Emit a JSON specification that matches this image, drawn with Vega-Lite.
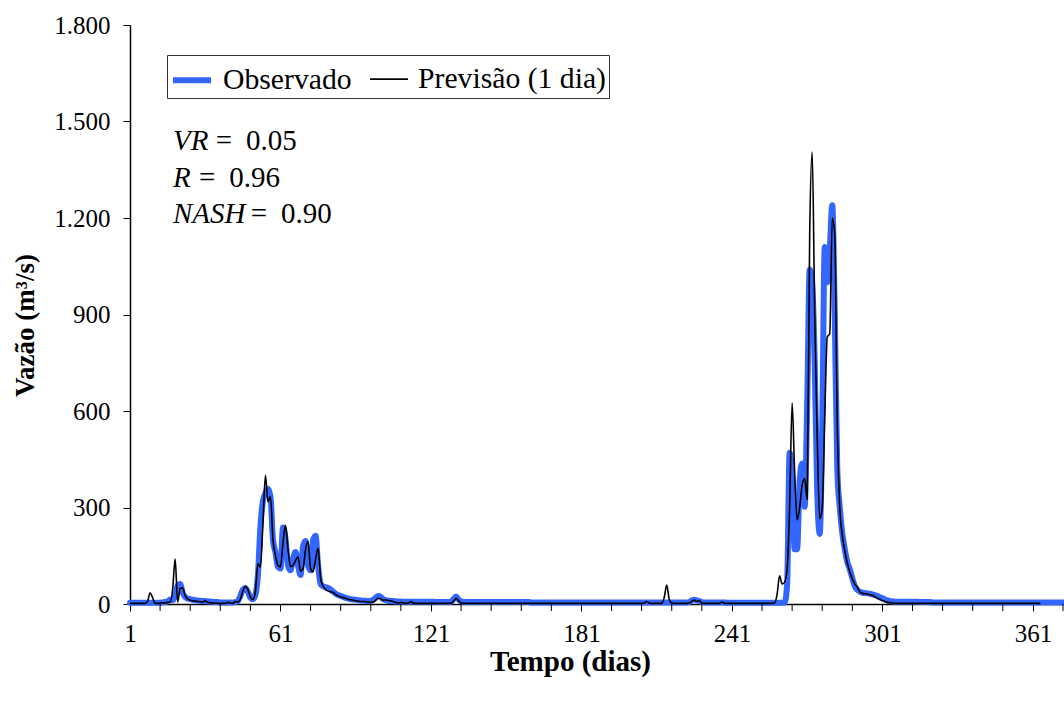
{
"$schema": "https://vega.github.io/schema/vega-lite/v6.json",
"width": 933, "height": 579,
"autosize": {"type": "none"},
"padding": {"left": 130, "top": 25, "right": 1, "bottom": 98},
"background": "white",
"config": {"view": {"stroke": null}, "font": "Liberation Serif", "axis": {"grid": false}},
"data": {"values": [
{"d":1,"o":4,"p":2},{"d":2,"o":4,"p":2},{"d":3,"o":4,"p":2},{"d":4,"o":4,"p":2},{"d":5,"o":4,"p":2},{"d":6,"o":4,"p":2},{"d":7,"o":4,"p":2},{"d":8,"o":4,"p":8},{"d":9,"o":4,"p":35},{"d":10,"o":4,"p":20},
{"d":11,"o":4,"p":2},{"d":12,"o":4,"p":2},{"d":13,"o":4,"p":3},{"d":14,"o":5,"p":4},{"d":15,"o":6,"p":3},{"d":16,"o":8,"p":5},{"d":17,"o":14,"p":6},{"d":18,"o":12,"p":45},{"d":19,"o":25,"p":140},{"d":20,"o":58,"p":6},
{"d":21,"o":62,"p":48},{"d":22,"o":35,"p":50},{"d":23,"o":22,"p":25},{"d":24,"o":17,"p":16},{"d":25,"o":15,"p":12},{"d":26,"o":13,"p":10},{"d":27,"o":12,"p":9},{"d":28,"o":11,"p":8},{"d":29,"o":10,"p":7},{"d":30,"o":9,"p":6},
{"d":31,"o":9,"p":10},{"d":32,"o":8,"p":5},{"d":33,"o":8,"p":4},{"d":34,"o":7,"p":3},{"d":35,"o":6,"p":3},{"d":36,"o":6,"p":2},{"d":37,"o":5,"p":2},{"d":38,"o":5,"p":2},{"d":39,"o":5,"p":2},{"d":40,"o":5,"p":5},
{"d":41,"o":5,"p":3},{"d":42,"o":5,"p":2},{"d":43,"o":6,"p":8},{"d":44,"o":9,"p":6},{"d":45,"o":25,"p":15},{"d":46,"o":45,"p":40},{"d":47,"o":50,"p":54},{"d":48,"o":38,"p":45},{"d":49,"o":20,"p":22},{"d":50,"o":15,"p":14},
{"d":51,"o":28,"p":40},{"d":52,"o":90,"p":125},{"d":53,"o":240,"p":115},{"d":54,"o":320,"p":250},{"d":55,"o":345,"p":400},{"d":56,"o":358,"p":318},{"d":57,"o":335,"p":334},{"d":58,"o":200,"p":200},{"d":59,"o":160,"p":150},{"d":60,"o":115,"p":120},
{"d":61,"o":110,"p":116},{"d":62,"o":238,"p":190},{"d":63,"o":205,"p":245},{"d":64,"o":120,"p":170},{"d":65,"o":105,"p":116},{"d":66,"o":140,"p":120},{"d":67,"o":162,"p":135},{"d":68,"o":120,"p":147},{"d":69,"o":90,"p":102},{"d":70,"o":180,"p":110},
{"d":71,"o":196,"p":170},{"d":72,"o":120,"p":194},{"d":73,"o":105,"p":110},{"d":74,"o":198,"p":100},{"d":75,"o":212,"p":140},{"d":76,"o":120,"p":173},{"d":77,"o":62,"p":80},{"d":78,"o":55,"p":56},{"d":79,"o":52,"p":45},{"d":80,"o":50,"p":40},
{"d":81,"o":45,"p":38},{"d":82,"o":38,"p":36},{"d":83,"o":32,"p":30},{"d":84,"o":28,"p":25},{"d":85,"o":25,"p":22},{"d":86,"o":22,"p":20},{"d":87,"o":19,"p":17},{"d":88,"o":17,"p":15},{"d":89,"o":15,"p":13},{"d":90,"o":14,"p":12},
{"d":91,"o":13,"p":10},{"d":92,"o":12,"p":9},{"d":93,"o":11,"p":8},{"d":94,"o":10,"p":8},{"d":95,"o":10,"p":7},{"d":96,"o":9,"p":6},{"d":97,"o":10,"p":5},{"d":98,"o":13,"p":6},{"d":99,"o":20,"p":12},{"d":100,"o":25,"p":18},
{"d":101,"o":22,"p":16},{"d":102,"o":15,"p":12},{"d":103,"o":12,"p":13},{"d":104,"o":10,"p":11},{"d":105,"o":9,"p":10},{"d":106,"o":9,"p":7},{"d":107,"o":8,"p":5},{"d":108,"o":8,"p":3},{"d":109,"o":8,"p":5},{"d":110,"o":7,"p":3},
{"d":111,"o":7,"p":2},{"d":112,"o":7,"p":3},{"d":113,"o":7,"p":8},{"d":114,"o":7,"p":2},{"d":115,"o":7,"p":2},{"d":116,"o":7,"p":2},{"d":117,"o":7,"p":2},{"d":118,"o":7,"p":2},{"d":119,"o":7,"p":2},{"d":120,"o":7,"p":2},
{"d":121,"o":7,"p":2},{"d":122,"o":7,"p":2},{"d":123,"o":6,"p":2},{"d":124,"o":6,"p":2},{"d":125,"o":6,"p":2},{"d":126,"o":6,"p":2},{"d":127,"o":6,"p":2},{"d":128,"o":6,"p":2},{"d":129,"o":7,"p":3},{"d":130,"o":15,"p":8},
{"d":131,"o":23,"p":18},{"d":132,"o":14,"p":10},{"d":133,"o":8,"p":3},{"d":134,"o":7,"p":2},{"d":135,"o":6,"p":2},{"d":136,"o":6,"p":2},{"d":137,"o":6,"p":2},{"d":138,"o":6,"p":2},{"d":139,"o":6,"p":2},{"d":140,"o":6,"p":2},
{"d":141,"o":6,"p":2},{"d":142,"o":6,"p":2},{"d":143,"o":6,"p":2},{"d":144,"o":6,"p":2},{"d":145,"o":6,"p":2},{"d":146,"o":6,"p":2},{"d":147,"o":6,"p":2},{"d":148,"o":6,"p":2},{"d":149,"o":6,"p":2},{"d":150,"o":6,"p":2},
{"d":151,"o":6,"p":2},{"d":152,"o":6,"p":2},{"d":153,"o":6,"p":2},{"d":154,"o":6,"p":2},{"d":155,"o":6,"p":2},{"d":156,"o":6,"p":2},{"d":157,"o":6,"p":2},{"d":158,"o":6,"p":2},{"d":159,"o":6,"p":2},{"d":160,"o":6,"p":2},
{"d":161,"o":5,"p":2},{"d":162,"o":5,"p":2},{"d":163,"o":5,"p":2},{"d":164,"o":5,"p":2},{"d":165,"o":5,"p":2},{"d":166,"o":5,"p":2},{"d":167,"o":5,"p":2},{"d":168,"o":5,"p":2},{"d":169,"o":5,"p":2},{"d":170,"o":5,"p":2},
{"d":171,"o":5,"p":2},{"d":172,"o":5,"p":2},{"d":173,"o":5,"p":2},{"d":174,"o":5,"p":2},{"d":175,"o":5,"p":2},{"d":176,"o":5,"p":2},{"d":177,"o":5,"p":2},{"d":178,"o":5,"p":2},{"d":179,"o":5,"p":2},{"d":180,"o":5,"p":2},
{"d":181,"o":5,"p":2},{"d":182,"o":5,"p":2},{"d":183,"o":5,"p":2},{"d":184,"o":5,"p":2},{"d":185,"o":5,"p":2},{"d":186,"o":5,"p":2},{"d":187,"o":5,"p":2},{"d":188,"o":5,"p":2},{"d":189,"o":5,"p":2},{"d":190,"o":5,"p":2},
{"d":191,"o":5,"p":2},{"d":192,"o":5,"p":2},{"d":193,"o":5,"p":2},{"d":194,"o":5,"p":2},{"d":195,"o":5,"p":2},{"d":196,"o":5,"p":2},{"d":197,"o":5,"p":2},{"d":198,"o":5,"p":2},{"d":199,"o":5,"p":2},{"d":200,"o":5,"p":2},
{"d":201,"o":5,"p":2},{"d":202,"o":5,"p":2},{"d":203,"o":5,"p":2},{"d":204,"o":5,"p":2},{"d":205,"o":5,"p":2},{"d":206,"o":5,"p":3},{"d":207,"o":5,"p":8},{"d":208,"o":5,"p":3},{"d":209,"o":5,"p":2},{"d":210,"o":5,"p":2},
{"d":211,"o":5,"p":2},{"d":212,"o":5,"p":2},{"d":213,"o":5,"p":2},{"d":214,"o":5,"p":20},{"d":215,"o":5,"p":59},{"d":216,"o":5,"p":15},{"d":217,"o":5,"p":3},{"d":218,"o":5,"p":2},{"d":219,"o":5,"p":2},{"d":220,"o":5,"p":2},
{"d":221,"o":5,"p":2},{"d":222,"o":5,"p":2},{"d":223,"o":5,"p":2},{"d":224,"o":6,"p":3},{"d":225,"o":11,"p":8},{"d":226,"o":13,"p":12},{"d":227,"o":11,"p":8},{"d":228,"o":9,"p":10},{"d":229,"o":6,"p":3},{"d":230,"o":5,"p":2},
{"d":231,"o":5,"p":2},{"d":232,"o":5,"p":2},{"d":233,"o":5,"p":2},{"d":234,"o":5,"p":2},{"d":235,"o":5,"p":2},{"d":236,"o":5,"p":2},{"d":237,"o":5,"p":6},{"d":238,"o":5,"p":2},{"d":239,"o":4,"p":2},{"d":240,"o":4,"p":2},
{"d":241,"o":4,"p":2},{"d":242,"o":4,"p":2},{"d":243,"o":4,"p":2},{"d":244,"o":4,"p":2},{"d":245,"o":4,"p":2},{"d":246,"o":4,"p":2},{"d":247,"o":4,"p":2},{"d":248,"o":4,"p":2},{"d":249,"o":4,"p":2},{"d":250,"o":4,"p":2},
{"d":251,"o":4,"p":2},{"d":252,"o":4,"p":2},{"d":253,"o":4,"p":2},{"d":254,"o":4,"p":2},{"d":255,"o":4,"p":2},{"d":256,"o":4,"p":2},{"d":257,"o":4,"p":2},{"d":258,"o":4,"p":3},{"d":259,"o":4,"p":30},{"d":260,"o":4,"p":88},
{"d":261,"o":4,"p":62},{"d":262,"o":4,"p":68},{"d":263,"o":60,"p":108},{"d":264,"o":470,"p":300},{"d":265,"o":400,"p":625},{"d":266,"o":170,"p":410},{"d":267,"o":170,"p":261},{"d":268,"o":380,"p":300},{"d":269,"o":437,"p":370},{"d":270,"o":302,"p":390},
{"d":271,"o":620,"p":325},{"d":272,"o":1040,"p":1150},{"d":273,"o":1000,"p":1405},{"d":274,"o":750,"p":900},{"d":275,"o":350,"p":520},{"d":276,"o":218,"p":265},{"d":277,"o":550,"p":300},{"d":278,"o":1110,"p":580},{"d":279,"o":1000,"p":830},{"d":280,"o":1100,"p":840},
{"d":281,"o":1240,"p":1200},{"d":282,"o":900,"p":1150},{"d":283,"o":420,"p":560},{"d":284,"o":300,"p":300},{"d":285,"o":220,"p":215},{"d":286,"o":170,"p":165},{"d":287,"o":130,"p":127},{"d":288,"o":108,"p":100},{"d":289,"o":80,"p":78},{"d":290,"o":55,"p":62},
{"d":291,"o":44,"p":52},{"d":292,"o":38,"p":38},{"d":293,"o":35,"p":33},{"d":294,"o":34,"p":32},{"d":295,"o":33,"p":31},{"d":296,"o":32,"p":29},{"d":297,"o":30,"p":27},{"d":298,"o":28,"p":22},{"d":299,"o":25,"p":18},{"d":300,"o":21,"p":14},
{"d":301,"o":18,"p":11},{"d":302,"o":14,"p":8},{"d":303,"o":11,"p":5},{"d":304,"o":9,"p":4},{"d":305,"o":8,"p":3},{"d":306,"o":7,"p":2},{"d":307,"o":7,"p":2},{"d":308,"o":7,"p":2},{"d":309,"o":7,"p":2},{"d":310,"o":7,"p":2},
{"d":311,"o":7,"p":2},{"d":312,"o":7,"p":2},{"d":313,"o":7,"p":2},{"d":314,"o":7,"p":2},{"d":315,"o":7,"p":2},{"d":316,"o":6,"p":2},{"d":317,"o":6,"p":2},{"d":318,"o":6,"p":2},{"d":319,"o":6,"p":2},{"d":320,"o":6,"p":2},
{"d":321,"o":5,"p":2},{"d":322,"o":5,"p":2},{"d":323,"o":5,"p":2},{"d":324,"o":5,"p":2},{"d":325,"o":5,"p":2},{"d":326,"o":5,"p":2},{"d":327,"o":5,"p":2},{"d":328,"o":5,"p":2},{"d":329,"o":5,"p":2},{"d":330,"o":5,"p":2},
{"d":331,"o":5,"p":2},{"d":332,"o":5,"p":2},{"d":333,"o":5,"p":2},{"d":334,"o":5,"p":2},{"d":335,"o":5,"p":2},{"d":336,"o":5,"p":2},{"d":337,"o":5,"p":2},{"d":338,"o":5,"p":2},{"d":339,"o":5,"p":2},{"d":340,"o":5,"p":2},
{"d":341,"o":5,"p":2},{"d":342,"o":5,"p":2},{"d":343,"o":5,"p":2},{"d":344,"o":5,"p":2},{"d":345,"o":5,"p":2},{"d":346,"o":5,"p":2},{"d":347,"o":5,"p":2},{"d":348,"o":5,"p":2},{"d":349,"o":5,"p":2},{"d":350,"o":5,"p":2},
{"d":351,"o":5,"p":2},{"d":352,"o":5,"p":2},{"d":353,"o":5,"p":2},{"d":354,"o":5,"p":2},{"d":355,"o":5,"p":2},{"d":356,"o":5,"p":2},{"d":357,"o":5,"p":2},{"d":358,"o":5,"p":2},{"d":359,"o":5,"p":2},{"d":360,"o":5,"p":2},
{"d":361,"o":5,"p":2},{"d":362,"o":5,"p":2},{"d":363,"o":5,"p":2},{"d":364,"o":5,"p":2},{"d":365,"o":5},{"d":366,"o":5},{"d":367,"o":5},{"d":368,"o":5},{"d":369,"o":5},{"d":370,"o":5},
{"d":371,"o":5},{"d":372,"o":5},{"d":373,"o":5}
]},
"layer": [
{
"transform": [{"fold": ["o"], "as": ["k", "v"]}, {"filter": "isValid(datum.v)"}],
"mark": {"type": "line", "interpolate": "monotone", "strokeCap": "round", "strokeJoin": "round"},
"encoding": {
"x": {"field": "d", "type": "quantitative", "title": "Tempo (dias)",
"scale": {"domain": [1, 373], "nice": false, "zero": false},
"axis": {"values": [1,61,121,181,241,301,361], "grid": false, "tickSize": 7, "tickColor": "black", "tickWidth": 1,
"domainColor": "black", "domainWidth": 1.5, "labelFont": "Liberation Serif", "labelFontSize": 25, "labelColor": "black",
"labelBaseline": "alphabetic", "labelPadding": 30, "labelOverlap": false, "labelFlush": false,
"titleFont": "Liberation Serif", "titleFontSize": 29, "titleFontWeight": "bold", "titleColor": "black",
"titleX": 440, "titleY": 66, "titleBaseline": "alphabetic", "titleAlign": "center", "titleAnchor": null}},
"y": {"field": "v", "type": "quantitative", "title": "Vazão (m³/s)",
"scale": {"domain": [0, 1800], "nice": false, "zero": true},
"axis": {"values": [0,300,600,900,1200,1500,1800], "labelExpr": "replace(format(datum.value, ','), ',', '.')",
"grid": false, "tickSize": 7, "tickColor": "black", "tickWidth": 1, "domainColor": "black", "domainWidth": 1.5,
"labelFont": "Liberation Serif", "labelFontSize": 25, "labelColor": "black", "labelPadding": 13,
"titleFont": "Liberation Serif", "titleFontSize": 27, "titleFontWeight": "bold", "titleColor": "black",
"titleX": -105, "titleY": 300, "titleAngle": 270, "titleBaseline": "middle", "titleAlign": "center", "titleAnchor": null}},
"color": {"field": "k", "type": "nominal", "scale": {"domain": ["o", "p"], "range": ["#3366FF", "#000000"]},
"legend": {"orient": "none", "legendX": 37, "legendY": 30, "direction": "horizontal", "title": null,
"labelFont": "Liberation Serif", "labelFontSize": 29.7, "labelColor": "black", "symbolType": "stroke", "symbolSize": 1444,
"strokeColor": "#333333", "fillColor": "white", "padding": 3, "labelOffset": 9, "columnPadding": 14, "labelLimit": 400,
"labelExpr": "datum.label == 'o' ? 'Observado' : 'Previsão (1 dia)'"}},
"strokeWidth": {"field": "k", "type": "nominal", "scale": {"domain": ["o", "p"], "range": [6, 1.6]},
"legend": {"orient": "none", "legendX": 37, "legendY": 30, "direction": "horizontal", "title": null,
"labelFont": "Liberation Serif", "labelFontSize": 29.7, "labelColor": "black", "symbolType": "stroke", "symbolSize": 1444,
"strokeColor": "#333333", "fillColor": "white", "padding": 3, "labelOffset": 9, "columnPadding": 14, "labelLimit": 400,
"labelExpr": "datum.label == 'o' ? 'Observado' : 'Previsão (1 dia)'"}}
}
},
{
"transform": [{"fold": ["p"], "as": ["k", "v"]}, {"filter": "isValid(datum.v)"}],
"mark": {"type": "line", "interpolate": "monotone", "strokeJoin": "round"},
"encoding": {
"x": {"field": "d", "type": "quantitative"},
"y": {"field": "v", "type": "quantitative"},
"color": {"field": "k", "type": "nominal"},
"strokeWidth": {"field": "k", "type": "nominal"}
}
},
{"data": {"values": [{"t":13},{"t":25},{"t":37},{"t":49},{"t":73},{"t":85},{"t":97},{"t":109},{"t":133},{"t":145},{"t":157},{"t":169},{"t":193},{"t":205},{"t":217},{"t":229},{"t":253},{"t":265},{"t":277},{"t":289},{"t":313},{"t":325},{"t":337},{"t":349},{"t":373}]},
"mark": {"type": "rule", "color": "black", "strokeWidth": 1, "clip": false},
"encoding": {"x": {"field": "t", "type": "quantitative"}, "y": {"datum": 0, "type": "quantitative"}, "y2": {"datum": -21.76}}},
{"data": {"values": [{}]}, "mark": {"type": "text", "text": "VR", "font": "Liberation Serif", "fontSize": 29, "fontStyle": "italic", "align": "left", "baseline": "alphabetic", "color": "black"},
"encoding": {"x": {"datum": 18.14}, "y": {"datum": 1411}}},
{"data": {"values": [{}]}, "mark": {"type": "text", "text": "=", "font": "Liberation Serif", "fontSize": 29, "align": "left", "baseline": "alphabetic", "color": "black"},
"encoding": {"x": {"datum": 35.17}, "y": {"datum": 1411}}},
{"data": {"values": [{}]}, "mark": {"type": "text", "text": "0.05", "font": "Liberation Serif", "fontSize": 29, "align": "left", "baseline": "alphabetic", "color": "black"},
"encoding": {"x": {"datum": 47.25}, "y": {"datum": 1411}}},
{"data": {"values": [{}]}, "mark": {"type": "text", "text": "R", "font": "Liberation Serif", "fontSize": 29, "fontStyle": "italic", "align": "left", "baseline": "alphabetic", "color": "black"},
"encoding": {"x": {"datum": 18.14}, "y": {"datum": 1297}}},
{"data": {"values": [{}]}, "mark": {"type": "text", "text": "=", "font": "Liberation Serif", "fontSize": 29, "align": "left", "baseline": "alphabetic", "color": "black"},
"encoding": {"x": {"datum": 28.51}, "y": {"datum": 1297}}},
{"data": {"values": [{}]}, "mark": {"type": "text", "text": "0.96", "font": "Liberation Serif", "fontSize": 29, "align": "left", "baseline": "alphabetic", "color": "black"},
"encoding": {"x": {"datum": 40.59}, "y": {"datum": 1297}}},
{"data": {"values": [{}]}, "mark": {"type": "text", "text": "NASH", "font": "Liberation Serif", "fontSize": 29, "fontStyle": "italic", "align": "left", "baseline": "alphabetic", "color": "black"},
"encoding": {"x": {"datum": 18.14}, "y": {"datum": 1183}}},
{"data": {"values": [{}]}, "mark": {"type": "text", "text": "=", "font": "Liberation Serif", "fontSize": 29, "align": "left", "baseline": "alphabetic", "color": "black"},
"encoding": {"x": {"datum": 49.12}, "y": {"datum": 1183}}},
{"data": {"values": [{}]}, "mark": {"type": "text", "text": "0.90", "font": "Liberation Serif", "fontSize": 29, "align": "left", "baseline": "alphabetic", "color": "black"},
"encoding": {"x": {"datum": 61.2}, "y": {"datum": 1183}}}
]
}
